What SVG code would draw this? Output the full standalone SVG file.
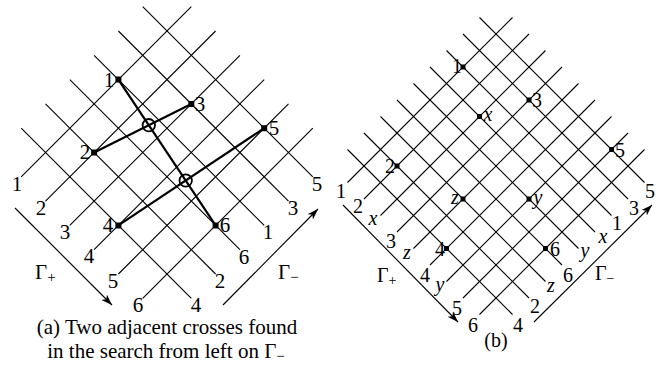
<svg xmlns="http://www.w3.org/2000/svg" width="661" height="369" viewBox="0 0 661 369">
<style>
.g{stroke:#000;stroke-width:1.1;fill:none;stroke-linecap:butt}
.t{stroke:#000;stroke-width:2.2;fill:none}
.c{stroke:#000;stroke-width:1.8;fill:none}
.a{stroke:#000;stroke-width:1.1;fill:none}
text{font-family:"Liberation Serif","Times New Roman",serif;fill:#000}
.L{font-size:21px;text-anchor:middle}
.R{font-size:20px;text-anchor:middle}
.i{font-style:italic}
.cap{font-size:21px;text-anchor:middle}
</style>
<defs>
<marker id="ah" viewBox="-11 -4 11 8" refX="0" refY="0" markerWidth="11" markerHeight="8" markerUnits="userSpaceOnUse" orient="auto">
<path d="M0,0 L-11,-3.8 L-8,0 L-11,3.8 Z" fill="#000"/>
</marker>
</defs>

<!-- Left grid -->
<g id="gridA" class="g">
<path d="M191.3,6.7L21.2,176.8M215.6,31L45.5,201.1M239.9,55.3L69.8,225.4M264.2,79.6L94.1,249.7M288.5,103.9L118.4,274M312.8,128.2L142.7,298.3"/>
<path d="M142.7,6.7L312.8,176.8M118.4,31L288.5,201.1M94.1,55.3L264.2,225.4M69.8,79.6L239.9,249.7M45.5,103.9L215.6,274M21.2,128.2L191.3,298.3"/>
</g>

<!-- Right grid -->
<g id="gridB" class="g">
<path d="M512.5,17.5L347.5,182.5M529,34L364,199M545.5,50.5L380.5,215.5M562,67L397,232M578.5,83.5L413.5,248.5M595,100L430,265M611.5,116.5L446.5,281.5M628,133L463,298M644.5,149.5L479.5,314.5"/>
<path d="M479.5,17.5L644.5,182.5M463,34L628,199M446.5,50.5L611.5,215.5M430,67L595,232M413.5,83.5L578.5,248.5M397,100L562,265M380.5,116.5L545.5,281.5M364,133L529,298M347.5,149.5L512.5,314.5"/>
</g>

<!-- connectors -->
<g id="connectors">
<path class="t" d="M118.4,79.6L215.6,225.4"/>
<path class="t" d="M94.1,152.5L191.3,103.9"/>
<path class="t" d="M118.4,225.4L264.2,128.2"/>
<path class="a" d="M15,208L112,305" marker-end="url(#ah)"/>
<path class="a" d="M223,305L318,209" marker-end="url(#ah)"/>
<path class="a" d="M343,205L458,322" marker-end="url(#ah)"/>
<path class="a" d="M534,322L652,205" marker-end="url(#ah)"/>
</g>

<!-- crosses -->
<g id="crossA1"><circle class="c" cx="148.8" cy="125.2" r="6.2"/></g>
<g id="crossA2"><circle class="c" cx="185.7" cy="180.5" r="6.2"/></g>

<!-- left nodes -->
<g id="a1"><rect x="115.4" y="76.6" width="6" height="6" rx="1"/><text class="L" x="109" y="87">1</text></g>
<g id="a2"><rect x="91.1" y="149.5" width="6" height="6" rx="1"/><text class="L" x="85" y="159">2</text></g>
<g id="a3"><rect x="188.3" y="100.9" width="6" height="6" rx="1"/><text class="L" x="200" y="111">3</text></g>
<g id="a4"><rect x="115.4" y="222.4" width="6" height="6" rx="1"/><text class="L" x="108" y="232">4</text></g>
<g id="a5"><rect x="261.2" y="125.2" width="6" height="6" rx="1"/><text class="L" x="274" y="135">5</text></g>
<g id="a6"><rect x="212.6" y="222.4" width="6" height="6" rx="1"/><text class="L" x="225" y="232">6</text></g>

<!-- left edge labels -->
<g id="labelsA">
<text class="L" x="17" y="191">1</text>
<text class="L" x="41" y="215">2</text>
<text class="L" x="65" y="239">3</text>
<text class="L" x="89" y="263">4</text>
<text class="L" x="113" y="288">5</text>
<text class="L" x="138" y="312">6</text>
<text class="L" x="317" y="191">5</text>
<text class="L" x="293" y="215">3</text>
<text class="L" x="268" y="239">1</text>
<text class="L" x="244" y="264">6</text>
<text class="L" x="220" y="288">2</text>
<text class="L" x="196" y="312">4</text>
<text x="35" y="279" font-size="21">Γ<tspan font-size="15" dy="3">+</tspan></text>
<text x="278" y="279" font-size="21">Γ<tspan font-size="15" dy="3">−</tspan></text>
<text class="cap" x="167" y="334">(a) Two adjacent crosses found</text>
<text class="cap" x="166" y="358">in the search from left on Γ<tspan font-size="15" dy="3">−</tspan></text>
</g>

<!-- right nodes -->
<g id="b1"><rect x="460.5" y="64.5" width="5" height="5"/><text class="R" x="457" y="73">1</text></g>
<g id="b2"><rect x="394.5" y="163.5" width="5" height="5"/><text class="R" x="390" y="173">2</text></g>
<g id="bx"><rect x="477" y="114" width="5" height="5"/><text class="R i" x="488" y="121">x</text></g>
<g id="b3"><rect x="526.5" y="97.5" width="5" height="5"/><text class="R" x="537" y="107">3</text></g>
<g id="bz"><rect x="460.5" y="196.5" width="5" height="5"/><text class="R i" x="455" y="204">z</text></g>
<g id="b4"><rect x="444" y="246" width="5" height="5"/><text class="R" x="440" y="256">4</text></g>
<g id="by"><rect x="526.5" y="196.5" width="5" height="5"/><text class="R i" x="538" y="204">y</text></g>
<g id="b5"><rect x="609" y="147" width="5" height="5"/><text class="R" x="620" y="157">5</text></g>
<g id="b6"><rect x="543" y="246" width="5" height="5"/><text class="R" x="555" y="256">6</text></g>

<!-- right edge labels -->
<g id="labelsB">
<text class="R" x="341" y="198">1</text>
<text class="R" x="358" y="213">2</text>
<text class="R i" x="373" y="225">x</text>
<text class="R" x="391" y="248">3</text>
<text class="R i" x="407" y="259">z</text>
<text class="R" x="425" y="282">4</text>
<text class="R i" x="440" y="291">y</text>
<text class="R" x="457" y="315">5</text>
<text class="R" x="473" y="332">6</text>
<text class="R" x="650" y="198">5</text>
<text class="R" x="634" y="215">3</text>
<text class="R" x="617" y="230">1</text>
<text class="R i" x="603" y="243">x</text>
<text class="R i" x="585" y="257">y</text>
<text class="R" x="568" y="282">6</text>
<text class="R i" x="551" y="292">z</text>
<text class="R" x="535" y="313">2</text>
<text class="R" x="518" y="332">4</text>
<text x="377" y="282" font-size="20">Γ<tspan font-size="14" dy="3">+</tspan></text>
<text x="595" y="280" font-size="20">Γ<tspan font-size="14" dy="3">−</tspan></text>
<text class="R" x="496" y="347">(b)</text>
</g>
</svg>
